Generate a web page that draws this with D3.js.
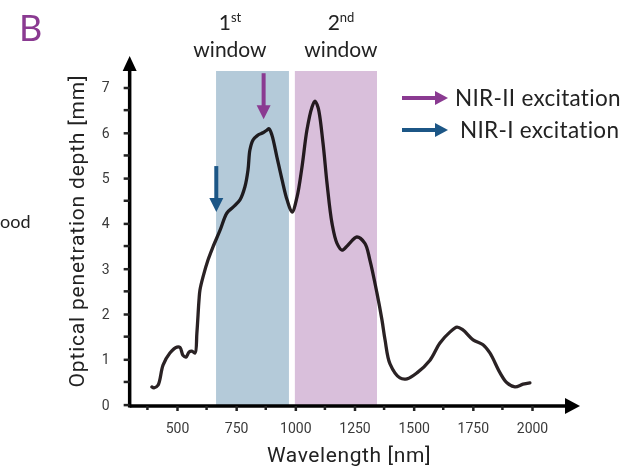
<!DOCTYPE html>
<html>
<head>
<meta charset="utf-8">
<script src="https://cdn.jsdelivr.net/npm/d3@7"></script>
<style>
  body { margin: 0; background: #fff; }
  svg { display: block; }
  .tick text { font-family: Roboto, sans-serif; font-size: 14px; fill: #3a3a3a; }
</style>
</head>
<body>
<svg width="629" height="467"></svg>
<script>
// Curve: wavelength (nm) and depth (mm)
const wavelength = [394, 403, 420, 441, 470, 500, 513, 525, 538, 551, 563, 576, 584, 593, 597, 610, 631, 652, 682, 711, 737, 766, 787, 800, 808, 821, 842, 863, 880, 889, 901, 922, 944, 965, 986, 1007, 1028, 1049, 1070, 1083, 1096, 1117, 1134, 1155, 1176, 1197, 1222, 1260, 1294, 1315, 1345, 1366, 1379, 1400, 1442, 1472, 1514, 1569, 1611, 1653, 1683, 1708, 1751, 1793, 1822, 1865, 1894, 1928, 1962, 1991];
const depth = [0.39, 0.37, 0.43, 0.87, 1.14, 1.27, 1.26, 1.09, 1.05, 1.16, 1.18, 1.14, 1.58, 2.31, 2.53, 2.82, 3.19, 3.48, 3.85, 4.23, 4.36, 4.52, 4.81, 5.18, 5.62, 5.84, 5.95, 6.0, 6.06, 6.09, 5.95, 5.47, 4.96, 4.52, 4.25, 4.58, 5.24, 6.06, 6.56, 6.70, 6.56, 5.77, 4.88, 4.0, 3.56, 3.41, 3.52, 3.70, 3.56, 3.19, 2.46, 1.87, 1.43, 0.9, 0.59, 0.57, 0.7, 0.98, 1.36, 1.6, 1.71, 1.65, 1.43, 1.32, 1.14, 0.7, 0.48, 0.39, 0.45, 0.48];

const xTicks = [500, 750, 1000, 1250, 1500, 1750, 2000];
const xMinorTicks = [375, 625, 875, 1125, 1375, 1625, 1875];
const yTicks = [0, 1, 2, 3, 4, 5, 6, 7];
const yMinorTicks = [0.5, 1.5, 2.5, 3.5, 4.5, 5.5, 6.5];

// Optical windows [start, end] in nm
const windowNames = ["1", "2"];
const windowSup = ["st", "nd"];
const windowRanges = [[665, 973], [998, 1345]];
const windowColors = ["#b4cad9", "#d9bfdb"];

// Excitation arrows (wavelength, depth at arrow tip)
const excitationLabels = ["NIR-II excitation", "NIR-I excitation"];
const excitationColors = ["#8a3a91", "#1c5686"];
const excitationAt = [[866, 6.3], [666, 4.25]];

const svg = d3.select("svg");

const x = d3.scaleLinear().domain([500, 2000]).range([177, 532]);
const y = d3.scaleLinear().domain([0, 7]).range([404.6, 87.5]);

const axisX0 = x(300);
const axisY0 = 406;
const labelX = [230, 341];

// Windows
windowRanges.forEach(function (r, i) {
  svg
    .append("rect")
    .attr("x", x(r[0]))
    .attr("y", 71)
    .attr("width", x(r[1]) - x(r[0]))
    .attr("height", axisY0 - 71)
    .attr("fill", windowColors[i]);

  const t = svg
    .append("text")
    .attr("x", labelX[i])
    .attr("y", 30)
    .attr("text-anchor", "middle")
    .style("font-family", "Lato, sans-serif")
    .style("font-size", "21px")
    .attr("fill", "#222");
  t.append("tspan").text(windowNames[i]);
  t.append("tspan")
    .attr("dy", -8)
    .style("font-size", "13px")
    .text(windowSup[i]);
  svg
    .append("text")
    .attr("x", labelX[i])
    .attr("y", 57)
    .attr("text-anchor", "middle")
    .style("font-family", "Lato, sans-serif")
    .style("font-size", "21px")
    .attr("fill", "#222")
    .text("window");
});

// Curve
const line = d3
  .line()
  .x(function (d) { return x(d[0]); })
  .y(function (d) { return y(d[1]); })
  .curve(d3.curveCatmullRom.alpha(0.5));
svg
  .append("path")
  .datum(d3.zip(wavelength, depth))
  .attr("d", line)
  .attr("fill", "none")
  .attr("stroke", "#2a2224")
  .attr("stroke-width", 3.3)
  .attr("stroke-linecap", "round")
  .style("mix-blend-mode", "multiply");

// Axes
svg
  .append("path")
  .attr("d", "M" + axisX0 + "," + axisY0 + "H566")
  .attr("stroke", "#000")
  .attr("stroke-width", 3.5);
svg
  .append("path")
  .attr("d", "M565,398L580,406L565,414Z")
  .attr("fill", "#000");
svg
  .append("path")
  .attr("d", "M" + axisX0 + "," + (axisY0 + 1.5) + "V70")
  .attr("stroke", "#000")
  .attr("stroke-width", 3.5);
svg
  .append("path")
  .attr("d", "M" + (axisX0 - 7) + ",71L" + axisX0 + ",56L" + (axisX0 + 7) + ",71Z")
  .attr("fill", "#000");

const xAxis = svg
  .append("g")
  .attr("transform", "translate(0," + axisY0 + ")")
  .call(d3.axisBottom(x).tickValues(xTicks).tickFormat(d3.format("d")).tickSize(5).tickPadding(12));
xAxis.select(".domain").remove();
xAxis.selectAll("line").attr("stroke", "#222").attr("stroke-width", 2.5);

svg
  .append("g")
  .selectAll("line")
  .data(xMinorTicks)
  .enter()
  .append("line")
  .attr("x1", function (d) { return x(d); })
  .attr("x2", function (d) { return x(d); })
  .attr("y1", axisY0)
  .attr("y2", axisY0 + 4)
  .attr("stroke", "#222")
  .attr("stroke-width", 2.5);

const yAxis = svg
  .append("g")
  .attr("transform", "translate(" + axisX0 + ",0)")
  .call(d3.axisLeft(y).tickValues(yTicks).tickFormat(d3.format("d")).tickSize(6).tickPadding(14));
yAxis.select(".domain").remove();
yAxis.selectAll("line").attr("stroke", "#222").attr("stroke-width", 2.5);

svg
  .append("g")
  .selectAll("line")
  .data(yMinorTicks)
  .enter()
  .append("line")
  .attr("x1", axisX0 - 6)
  .attr("x2", axisX0)
  .attr("y1", function (d) { return y(d); })
  .attr("y2", function (d) { return y(d); })
  .attr("stroke", "#222")
  .attr("stroke-width", 2.5);

// Axis titles
svg
  .append("text")
  .attr("x", 349)
  .attr("y", 462)
  .attr("text-anchor", "middle")
  .style("font-family", "Roboto, sans-serif")
  .style("font-size", "21px")
  .style("letter-spacing", "0.6px")
  .attr("fill", "#222")
  .text("Wavelength [nm]");

svg
  .append("text")
  .attr("text-anchor", "middle")
  .attr("transform", "translate(84,231)rotate(-90)")
  .style("font-family", "Roboto, sans-serif")
  .style("font-size", "21px")
  .style("letter-spacing", "0.8px")
  .attr("fill", "#222")
  .text("Optical penetration depth [mm]");

// Excitation arrows on the curve
excitationAt.forEach(function (p, i) {
  const ax = x(p[0]);
  const tip = y(p[1]);
  svg
    .append("line")
    .attr("x1", ax)
    .attr("x2", ax)
    .attr("y1", tip - 46)
    .attr("y2", tip - 12)
    .attr("stroke", excitationColors[i])
    .attr("stroke-width", 4);
  svg
    .append("path")
    .attr("d", "M" + (ax - 7) + "," + (tip - 14) + "L" + ax + "," + tip + "L" + (ax + 7) + "," + (tip - 14) + "Z")
    .attr("fill", excitationColors[i]);
});

// Legend
const legend = svg
  .append("g")
  .selectAll("g")
  .data(excitationLabels)
  .enter()
  .append("g")
  .attr("transform", function (d, i) { return "translate(402," + (98 + i * 32) + ")"; });
legend
  .append("line")
  .attr("x1", 0)
  .attr("x2", 34)
  .attr("y1", 0)
  .attr("y2", 0)
  .attr("stroke", function (d, i) { return excitationColors[i]; })
  .attr("stroke-width", 4);
legend
  .append("path")
  .attr("d", "M33,-7L46,0L33,7Z")
  .attr("fill", function (d, i) { return excitationColors[i]; });
legend
  .append("text")
  .attr("x", function (d, i) { return i === 0 ? 53 : 58; })
  .attr("y", 8)
  .style("font-family", "Lato, sans-serif")
  .style("font-size", "22.5px")
  .style("letter-spacing", "0.3px")
  .attr("fill", "#222")
  .text(function (d) { return d; });

// Panel letter and the neighbour panel's text fragment
svg
  .append("text")
  .attr("x", 19)
  .attr("y", 41)
  .style("font-family", "Lato, sans-serif")
  .style("font-size", "36px")
  .attr("fill", "#8a3a91")
  .text("B");

svg
  .append("text")
  .attr("x", 0)
  .attr("y", 228)
  .style("font-family", "Lato, sans-serif")
  .style("font-size", "18px")
  .attr("fill", "#222")
  .text("ood");
</script>
</body>
</html>
